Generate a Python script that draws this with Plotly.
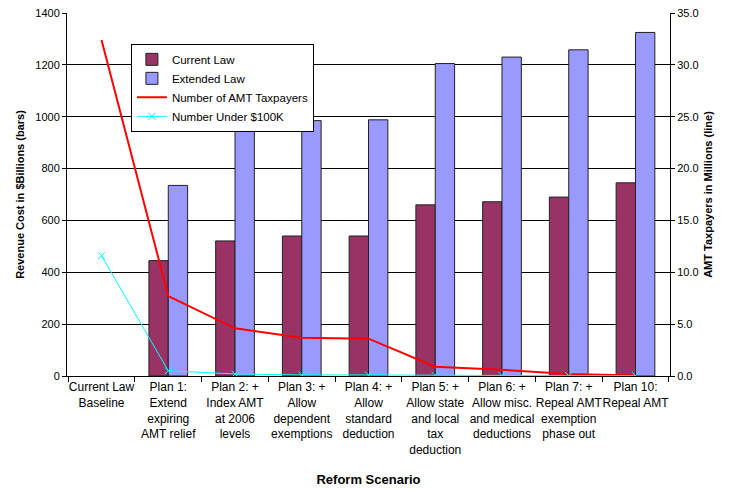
import plotly.graph_objects as go

categories = [
    "Current Law<br>Baseline",
    "Plan 1:<br>Extend<br>expiring<br>AMT relief",
    "Plan 2: +<br>Index AMT<br>at 2006<br>levels",
    "Plan 3: +<br>Allow<br>dependent<br>exemptions",
    "Plan 4: +<br>Allow<br>standard<br>deduction",
    "Plan 5: +<br>Allow state<br>and local<br>tax<br>deduction",
    "Plan 6: +<br>Allow misc.<br>and medical<br>deductions",
    "Plan 7: +<br>Repeal AMT<br>exemption<br>phase out",
    "Plan 10:<br>Repeal AMT",
]
current_law = [None, 445, 521, 540, 540, 660, 672, 690, 745]
extended_law = [None, 735, 945, 985, 988, 1205, 1230, 1258, 1325]
amt_taxpayers = [32.4, 7.7, 4.6, 3.7, 3.6, 0.9, 0.6, 0.2, 0.05]
under_100k = [11.6, 0.5, 0.2, 0.1, 0.1, 0.05, 0.05, 0.03, 0.03]

font = "Liberation Sans, Arial, sans-serif"

fig = go.Figure()
fig.add_trace(go.Bar(x=categories, y=current_law, name="Current Law",
                     marker=dict(color="#993366", line=dict(color="#222222", width=1))))
fig.add_trace(go.Bar(x=categories, y=extended_law, name="Extended Law",
                     marker=dict(color="#9999FF", line=dict(color="#222222", width=1))))
fig.add_trace(go.Scatter(x=categories, y=amt_taxpayers, name="Number of AMT Taxpayers",
                         mode="lines", line=dict(color="#FF0000", width=2), yaxis="y2"))
fig.add_trace(go.Scatter(x=categories, y=under_100k, name="Number Under $100K",
                         mode="lines+markers", line=dict(color="#00FFFF", width=1),
                         marker=dict(symbol="x-thin", size=7, line=dict(color="#00FFFF", width=1)),
                         yaxis="y2"))

fig.update_layout(
    width=729, height=489,
    margin=dict(l=67, r=59, t=13, b=113),
    paper_bgcolor="white", plot_bgcolor="white",
    font=dict(family=font, size=11, color="black"),
    barmode="group", bargap=0.42, bargroupgap=0,
    showlegend=True,
    legend=dict(x=0.106, y=0.915, xanchor="left", yanchor="top",
                bgcolor="white", bordercolor="black", borderwidth=1,
                font=dict(size=11.5), tracegroupgap=0, itemwidth=30),
    xaxis=dict(showline=True, linecolor="black", linewidth=1, ticks="outside",
               tickson="boundaries", ticklen=5, tickcolor="black", automargin=False,
               title=dict(text="<b>Reform Scenario</b>", font=dict(size=13), standoff=19),
               tickfont=dict(size=12), tickangle=0),
    yaxis=dict(range=[0, 1400], dtick=200, showgrid=True, gridcolor="black", gridwidth=1,
               showline=True, linecolor="black", linewidth=1, ticks="outside", ticklen=4,
               tickcolor="black", zeroline=False, automargin=False,
               title=dict(text="<b>Revenue Cost in $Billions (bars)</b>", font=dict(size=11), standoff=8)),
    yaxis2=dict(range=[0, 35], dtick=5, tickformat=".1f", overlaying="y", side="right",
                showgrid=False, showline=True, linecolor="black", linewidth=1,
                ticks="outside", ticklen=4, tickcolor="black", zeroline=False, automargin=False,
                title=dict(text="<b>AMT Taxpayers in Millions (line)</b>", font=dict(size=11), standoff=6)),
)

fig.write_html("out.html", config={"displayModeBar": False},
               post_script="document.body.style.margin='0';")
